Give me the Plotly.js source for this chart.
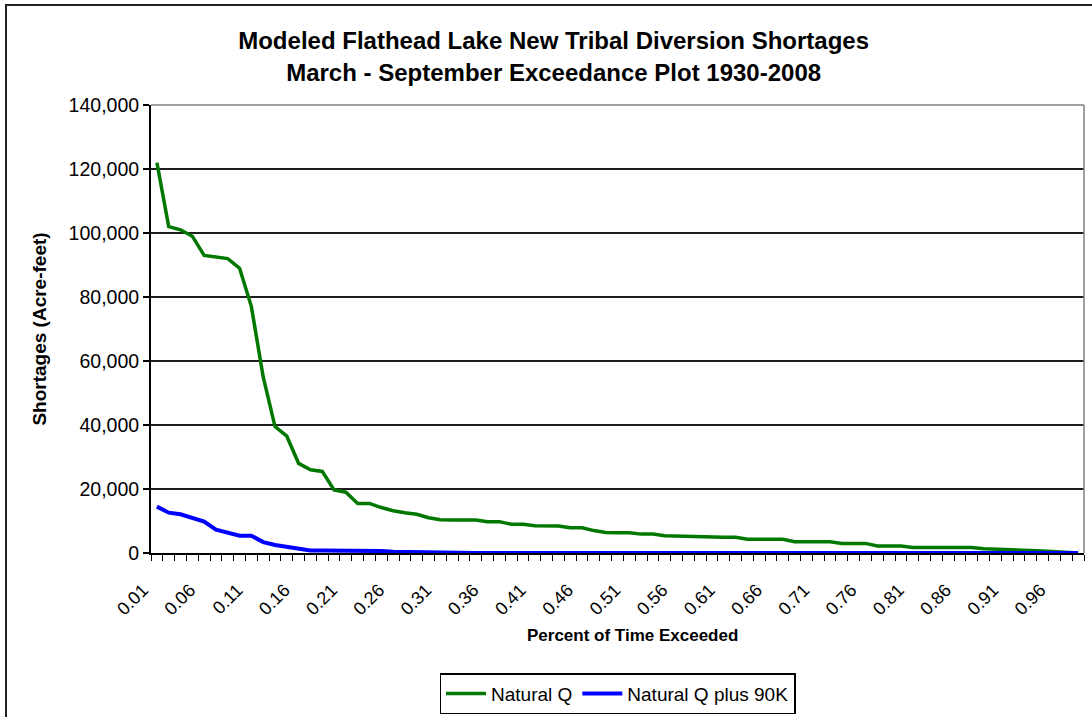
<!DOCTYPE html>
<html>
<head>
<meta charset="utf-8">
<script src="https://cdn.plot.ly/plotly-3.0.1.min.js"></script>
<style>html,body{margin:0;padding:0;background:#fff;}#chart{width:1092px;height:717px;}</style>
</head>
<body>
<div id="chart"></div>
<script>
// Exceedance categories (rank / 80, 1930-2008)
var exceedance = [0.0125,0.025,0.0375,0.05,0.0625,0.075,0.0875,0.1,0.1125,0.125,
0.1375,0.15,0.1625,0.175,0.1875,0.2,0.2125,0.225,0.2375,0.25,
0.2625,0.275,0.2875,0.3,0.3125,0.325,0.3375,0.35,0.3625,0.375,
0.3875,0.4,0.4125,0.425,0.4375,0.45,0.4625,0.475,0.4875,0.5,
0.5125,0.525,0.5375,0.55,0.5625,0.575,0.5875,0.6,0.6125,0.625,
0.6375,0.65,0.6625,0.675,0.6875,0.7,0.7125,0.725,0.7375,0.75,
0.7625,0.775,0.7875,0.8,0.8125,0.825,0.8375,0.85,0.8625,0.875,
0.8875,0.9,0.9125,0.925,0.9375,0.95,0.9625,0.975,0.9875];

var naturalQ = [122000,102000,101000,99000,93000,92500,92000,89000,77000,55000,
39500,36500,28000,26000,25500,19700,19000,15500,15500,14200,
13200,12600,12100,11000,10400,10300,10300,10300,9800,9800,
9000,9000,8500,8400,8400,7900,7900,7000,6400,6300,
6300,5900,5900,5400,5300,5000,4900,4900,4900,4900,
4300,4300,4300,4300,3500,3500,3500,3500,3000,3000,
3000,2200,2200,2200,1700,1700,1700,1700,1700,1700,
1300,1200,1200,1100,800,600,400,0,0];

var naturalQplus90K = [14500,12600,12100,11000,9800,7300,6200,5400,5400,3400,
2500,1900,1300,800,800,800,800,800,800,600,
400,300,300,300,200,200,100,0,0,0,
0,0,0,0,0,0,0,0,0,0,
0,0,0,0,0,0,0,0,0,0,
0,0,0,0,0,0,0,0,0,0,
0,0,0,0,0,0,0,0,0,0,
0,0,0,0,0,0,0,0,0];

var tickLabels = ["0.01","0.06","0.11","0.16","0.21","0.26","0.31","0.36","0.41","0.46",
"0.51","0.56","0.61","0.66","0.71","0.76","0.81","0.86","0.91","0.96"];

var seriesNames = ["Natural Q","Natural Q plus 90K"];
var xTitle = "Percent of Time Exceeded";

var tickVals = exceedance.filter(function(v,i){return i%4===0;});

var FONT = "Liberation Sans, Arial, sans-serif";

var traces = [
  {x: exceedance, y: naturalQ, name: seriesNames[0], type: 'scatter', mode: 'lines',
   line: {color: '#007800', width: 3.5}},
  {x: exceedance, y: naturalQplus90K, name: seriesNames[1], type: 'scatter', mode: 'lines',
   line: {color: '#0000ff', width: 4}}
];

var layout = {
  width: 1092, height: 717,
  margin: {l: 151, r: 8, t: 105, b: 164, autoexpand: false},
  paper_bgcolor: '#ffffff', plot_bgcolor: '#ffffff',
  font: {family: FONT, color: '#000'},
  showlegend: true,
  title: {
    text: '<b>Modeled Flathead Lake New Tribal Diversion Shortages<br>March - September Exceedance Plot 1930-2008</b>',
    font: {family: FONT, size: 24, color: '#000'},
    x: 0.507, xref: 'container', xanchor: 'center',
    y: 0.931, yref: 'container', yanchor: 'middle'
  },
  xaxis: {
    range: [0.00625, 0.99375],
    tickmode: 'array', tickvals: tickVals, ticktext: tickLabels,
    tickangle: -45, tickfont: {family: FONT, size: 18, color: '#000'},
    ticklabelstandoff: 18, ticklabelshift: -14,
    ticks: '', showgrid: false, zeroline: false,
    showline: true, linecolor: '#000', linewidth: 1.5,
    minor: {tickmode: 'linear', tick0: 0.00625, dtick: 0.0125, ticks: 'outside', ticklen: 6, tickcolor: '#000', tickwidth: 1, showgrid: false},
    automargin: false
  },
  yaxis: {
    range: [0, 140000], tickmode: 'linear', tick0: 0, dtick: 20000,
    tickformat: ',d', tickfont: {family: FONT, size: 19.5, color: '#000'},
    ticks: 'outside', ticklen: 6, tickcolor: '#000', tickwidth: 1.5,
    showgrid: true, gridcolor: '#1e1e1e', gridwidth: 1.4,
    zeroline: false, showline: true, linecolor: '#000', linewidth: 2,
    title: {text: '<b>Shortages (Acre-feet)</b>', font: {family: FONT, size: 19, color: '#000'}, standoff: 17},
    automargin: false
  },
  annotations: [
    {text: '<b>' + xTitle + '</b>', xref: 'paper', yref: 'paper', x: 0.5166, y: -0.185,
     xanchor: 'center', yanchor: 'middle', showarrow: false,
     font: {family: FONT, size: 17, color: '#000'}}
  ],
  legend: {
    orientation: 'h', x: 0.5, xanchor: 'center', y: -0.268, yanchor: 'top',
    bordercolor: '#000', borderwidth: 1.5, bgcolor: '#fff',
    font: {family: FONT, size: 19, color: '#000'},
    itemwidth: 40, tracegroupgap: 0
  },
  shapes: [
    {type: 'line', xref: 'paper', yref: 'paper', x0: 0, x1: 1, y0: 1, y1: 1, line: {color: '#808080', width: 1.5}},
    {type: 'line', xref: 'paper', yref: 'paper', x0: 1, x1: 1, y0: 0, y1: 1, line: {color: '#808080', width: 1.5}},
    {type: 'rect', xref: 'paper', yref: 'paper', x0: -0.1554, x1: 1.02, y0: -0.4, y1: 1.2232, line: {color: '#222', width: 2}, fillcolor: 'rgba(0,0,0,0)'}
  ]
};

Plotly.newPlot('chart', traces, layout, {displayModeBar: false, staticPlot: true});
</script>
</body>
</html>
